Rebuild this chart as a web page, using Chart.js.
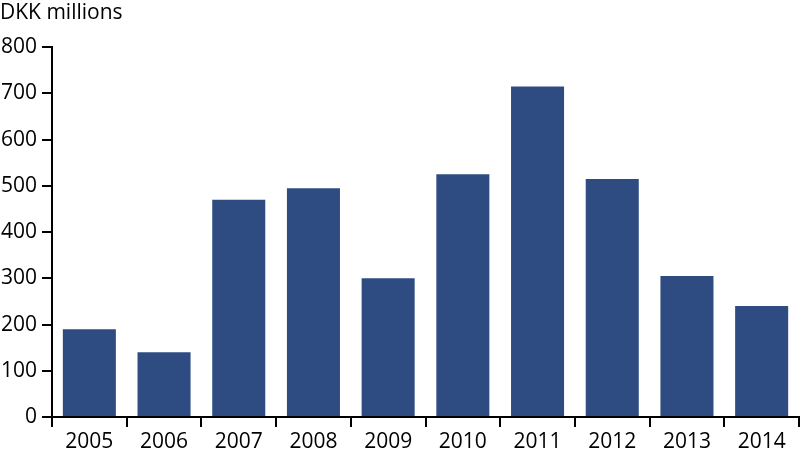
<!DOCTYPE html>
<html>
<head>
<meta charset="utf-8">
<script src="https://cdn.jsdelivr.net/npm/chart.js@4/dist/chart.umd.min.js"></script>
<style>
  html, body { margin: 0; padding: 0; background: #fff; }
  #wrap { width: 800px; height: 453px; }
</style>
</head>
<body>
<div id="wrap"><canvas id="myChart" width="800" height="453"></canvas></div>
<script>
// years on the x axis
const years = ['2005', '2006', '2007', '2008', '2009', '2010', '2011', '2012', '2013', '2014'];
// DKK millions per year
const values = [190, 140, 470, 495, 300, 525, 715, 515, 305, 240];
// y axis ticks
const yTicks = [0, 100, 200, 300, 400, 500, 600, 700, 800];

const barColor = '#2e4c82';
const fontFamily = '"Open Sans", "Noto Sans", sans-serif';

var ctx = document.getElementById('myChart').getContext('2d');

var chart = new Chart(ctx, {
    type: 'bar',
    data: {
        labels: years,
        datasets: [{
            data: values,
            backgroundColor: barColor,
            borderWidth: 0,
            categoryPercentage: 1.0,
            barPercentage: 0.71
        }]
    },
    options: {
        responsive: false,
        animation: false,
        layout: { padding: { left: 0, right: 1, top: 0, bottom: 0 } },
        plugins: {
            legend: { display: false },
            tooltip: { enabled: false },
            title: {
                display: true,
                text: 'DKK millions',
                align: 'start',
                color: '#000',
                font: { family: fontFamily, size: 21, weight: 'normal' },
                padding: { top: 0, bottom: 22 }
            }
        },
        scales: {
            x: {
                grid: {
                    offset: true,
                    drawOnChartArea: false,
                    drawTicks: true,
                    tickLength: 10,
                    color: '#000',
                    lineWidth: 2
                },
                border: { color: '#000', width: 2 },
                ticks: {
                    color: '#000',
                    padding: 2,
                    maxRotation: 0,
                    font: { family: fontFamily, size: 21 }
                },
                afterFit: (s) => { s.height = 36; }
            },
            y: {
                min: 0,
                max: 800,
                afterBuildTicks: (s) => { s.ticks = yTicks.map(v => ({ value: v })); },
                grid: {
                    drawOnChartArea: false,
                    drawTicks: true,
                    tickLength: 10,
                    color: '#000',
                    lineWidth: 2
                },
                border: { color: '#000', width: 2 },
                ticks: {
                    color: '#000',
                    padding: 5,
                    font: { family: fontFamily, size: 21 }
                },
                afterFit: (s) => { s.width = 52; }
            }
        }
    }
});
</script>
</body>
</html>
